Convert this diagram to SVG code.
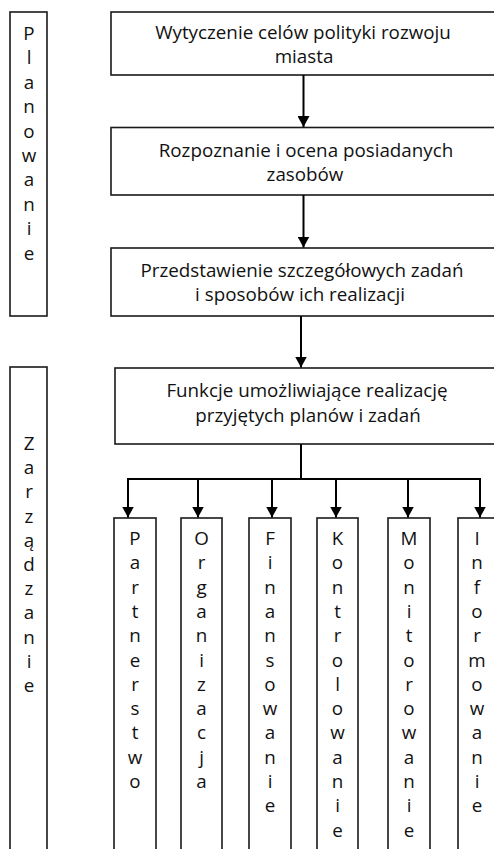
<svg xmlns="http://www.w3.org/2000/svg" width="494" height="849" viewBox="0 0 494 849">
  <style>
    .box { fill: #ffffff; stroke: #1a1a1a; stroke-width: 1.6; }
    .lbl { font-family: "Open Sans", "Liberation Sans", sans-serif; font-size: 18.8px; fill: #111111; text-anchor: middle; }
    .wire { fill: none; stroke: #000000; stroke-width: 2; }
  </style>
  <defs>
    <!-- arrowhead drawn along +x so orient="auto" points it down the line -->
    <marker id="head" viewBox="0 0 11 12" refX="11" refY="6" markerWidth="11" markerHeight="12" markerUnits="userSpaceOnUse" orient="auto">
      <path d="M0,0 L11,6 L0,12 Z" fill="#000000"/>
    </marker>
  </defs>
  <rect width="494" height="849" fill="#ffffff"/>

  <!-- side bands -->
  <g id="planowanie">
    <rect class="box" x="10" y="12" width="37" height="304"/>
    <text class="lbl">
      <tspan x="29" y="40">P</tspan><tspan x="29" dy="24.4">l</tspan><tspan x="29" dy="24.4">a</tspan><tspan x="29" dy="24.4">n</tspan><tspan x="29" dy="24.4">o</tspan><tspan x="29" dy="24.4">w</tspan><tspan x="29" dy="24.4">a</tspan><tspan x="29" dy="24.4">n</tspan><tspan x="29" dy="24.4">i</tspan><tspan x="29" dy="24.4">e</tspan>
    </text>
  </g>
  <g id="zarzadzanie">
    <rect class="box" x="10" y="367" width="37" height="500"/>
    <text class="lbl">
      <tspan x="29" y="450">Z</tspan><tspan x="29" dy="24.2">a</tspan><tspan x="29" dy="24.2">r</tspan><tspan x="29" dy="24.2">z</tspan><tspan x="29" dy="24.2">ą</tspan><tspan x="29" dy="24.2">d</tspan><tspan x="29" dy="24.2">z</tspan><tspan x="29" dy="24.2">a</tspan><tspan x="29" dy="24.2">n</tspan><tspan x="29" dy="24.2">i</tspan><tspan x="29" dy="24.2">e</tspan>
    </text>
  </g>

  <!-- planning steps -->
  <g id="cele">
    <rect class="box" x="111" y="12" width="392" height="63"/>
    <text class="lbl"><tspan x="303" y="39">Wytyczenie celów polityki rozwoju</tspan><tspan x="304" y="63">miasta</tspan></text>
  </g>
  <g id="zasoby">
    <rect class="box" x="111" y="127.5" width="392" height="67.5"/>
    <text class="lbl"><tspan x="306" y="157">Rozpoznanie i ocena posiadanych</tspan><tspan x="305" y="181">zasobów</tspan></text>
  </g>
  <g id="zadania">
    <rect class="box" x="111" y="248" width="392" height="68"/>
    <text class="lbl"><tspan x="302" y="277">Przedstawienie szczegółowych zadań</tspan><tspan x="300" y="301">i sposobów ich realizacji</tspan></text>
  </g>
  <g id="funkcje">
    <rect class="box" x="115" y="368" width="392" height="76"/>
    <text class="lbl"><tspan x="307" y="397">Funkcje umożliwiające realizację</tspan><tspan x="308" y="422">przyjętych planów i zadań</tspan></text>
  </g>

  <!-- management functions -->
  <g id="partnerstwo">
    <rect class="box" x="114" y="518" width="42" height="340"/>
    <text class="lbl"><tspan x="135" y="545">P</tspan><tspan x="135" dy="24.3">a</tspan><tspan x="135" dy="24.3">r</tspan><tspan x="135" dy="24.3">t</tspan><tspan x="135" dy="24.3">n</tspan><tspan x="135" dy="24.3">e</tspan><tspan x="135" dy="24.3">r</tspan><tspan x="135" dy="24.3">s</tspan><tspan x="135" dy="24.3">t</tspan><tspan x="135" dy="24.3">w</tspan><tspan x="135" dy="24.3">o</tspan></text>
  </g>
  <g id="organizacja">
    <rect class="box" x="181" y="518" width="41" height="340"/>
    <text class="lbl"><tspan x="201.5" y="545">O</tspan><tspan x="201.5" dy="24.3">r</tspan><tspan x="201.5" dy="24.3">g</tspan><tspan x="201.5" dy="24.3">a</tspan><tspan x="201.5" dy="24.3">n</tspan><tspan x="201.5" dy="24.3">i</tspan><tspan x="201.5" dy="24.3">z</tspan><tspan x="201.5" dy="24.3">a</tspan><tspan x="201.5" dy="24.3">c</tspan><tspan x="201.5" dy="24.3">j</tspan><tspan x="201.5" dy="24.3">a</tspan></text>
  </g>
  <g id="finansowanie">
    <rect class="box" x="249" y="518" width="42" height="340"/>
    <text class="lbl"><tspan x="270" y="545">F</tspan><tspan x="270" dy="24.3">i</tspan><tspan x="270" dy="24.3">n</tspan><tspan x="270" dy="24.3">a</tspan><tspan x="270" dy="24.3">n</tspan><tspan x="270" dy="24.3">s</tspan><tspan x="270" dy="24.3">o</tspan><tspan x="270" dy="24.3">w</tspan><tspan x="270" dy="24.3">a</tspan><tspan x="270" dy="24.3">n</tspan><tspan x="270" dy="24.3">i</tspan><tspan x="270" dy="24.3">e</tspan></text>
  </g>
  <g id="kontrolowanie">
    <rect class="box" x="317" y="518" width="41" height="340"/>
    <text class="lbl"><tspan x="337.5" y="545">K</tspan><tspan x="337.5" dy="24.3">o</tspan><tspan x="337.5" dy="24.3">n</tspan><tspan x="337.5" dy="24.3">t</tspan><tspan x="337.5" dy="24.3">r</tspan><tspan x="337.5" dy="24.3">o</tspan><tspan x="337.5" dy="24.3">l</tspan><tspan x="337.5" dy="24.3">o</tspan><tspan x="337.5" dy="24.3">w</tspan><tspan x="337.5" dy="24.3">a</tspan><tspan x="337.5" dy="24.3">n</tspan><tspan x="337.5" dy="24.3">i</tspan><tspan x="337.5" dy="24.3">e</tspan></text>
  </g>
  <g id="monitorowanie">
    <rect class="box" x="388" y="518" width="42" height="340"/>
    <text class="lbl"><tspan x="409" y="545">M</tspan><tspan x="409" dy="24.3">o</tspan><tspan x="409" dy="24.3">n</tspan><tspan x="409" dy="24.3">i</tspan><tspan x="409" dy="24.3">t</tspan><tspan x="409" dy="24.3">o</tspan><tspan x="409" dy="24.3">r</tspan><tspan x="409" dy="24.3">o</tspan><tspan x="409" dy="24.3">w</tspan><tspan x="409" dy="24.3">a</tspan><tspan x="409" dy="24.3">n</tspan><tspan x="409" dy="24.3">i</tspan><tspan x="409" dy="24.3">e</tspan></text>
  </g>
  <g id="informowanie">
    <rect class="box" x="458" y="518" width="42" height="340"/>
    <text class="lbl"><tspan x="477" y="545">I</tspan><tspan x="477" dy="24.3">n</tspan><tspan x="477" dy="24.3">f</tspan><tspan x="477" dy="24.3">o</tspan><tspan x="477" dy="24.3">r</tspan><tspan x="477" dy="24.3">m</tspan><tspan x="477" dy="24.3">o</tspan><tspan x="477" dy="24.3">w</tspan><tspan x="477" dy="24.3">a</tspan><tspan x="477" dy="24.3">n</tspan><tspan x="477" dy="24.3">i</tspan><tspan x="477" dy="24.3">e</tspan></text>
  </g>

  <!-- connectors -->
  <g id="connectors">
    <path class="wire" d="M303.5,75 V127" marker-end="url(#head)"/>
    <path class="wire" d="M303.5,195 V247.5" marker-end="url(#head)"/>
    <path class="wire" d="M301,316 V367.5" marker-end="url(#head)"/>
    <path class="wire" d="M301,444 V479 M127,479 H481"/>
    <path class="wire" d="M128,479 V517.5" marker-end="url(#head)"/>
    <path class="wire" d="M198,479 V517.5" marker-end="url(#head)"/>
    <path class="wire" d="M272,479 V517.5" marker-end="url(#head)"/>
    <path class="wire" d="M336,479 V517.5" marker-end="url(#head)"/>
    <path class="wire" d="M408,479 V517.5" marker-end="url(#head)"/>
    <path class="wire" d="M480,479 V517.5" marker-end="url(#head)"/>
  </g>
</svg>
